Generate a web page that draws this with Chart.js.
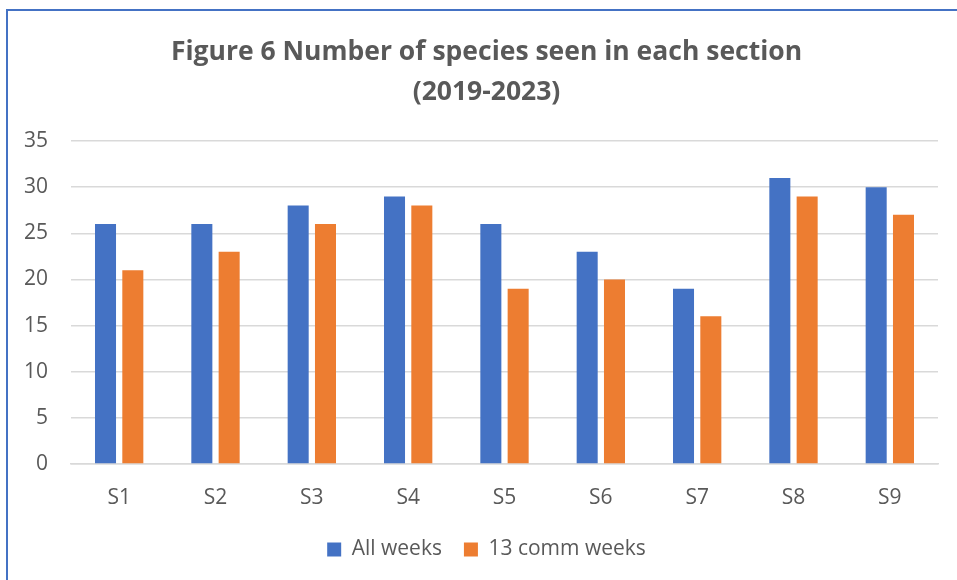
<!DOCTYPE html>
<html>
<head>
<meta charset="utf-8">
<script src="https://cdn.jsdelivr.net/npm/chart.js@4/dist/chart.umd.min.js"></script>
<style>
  html, body { margin: 0; padding: 0; background: #ffffff; overflow: hidden; }
  #wrap { position: relative; width: 957px; height: 580px; overflow: hidden; }
  #frame {
    position: absolute; left: 6px; top: 9px; right: -20px; bottom: -20px;
    border-top: 2px solid #4472C4; border-left: 2px solid #4472C4;
    pointer-events: none;
  }
  canvas { position: absolute; left: 0; top: 0; }
</style>
</head>
<body>
<div id="wrap">
  <canvas id="chart" width="973" height="580"></canvas>
  <div id="frame"></div>
</div>
<script>
// Sections along the transect
const sections = ['S1', 'S2', 'S3', 'S4', 'S5', 'S6', 'S7', 'S8', 'S9'];
// Species counts per section, 2019-2023
const allWeeks = [26, 26, 28, 29, 26, 23, 19, 31, 30];
const commWeeks = [21, 23, 26, 28, 19, 20, 16, 29, 27];
const seriesNames = ['All weeks', '13 comm weeks'];
const titleLines = ['Figure 6 Number of species seen in each section', '(2019-2023)'];

const textColor = '#595959';
const fontFamily = "'Open Sans', 'Liberation Sans', sans-serif";

new Chart(document.getElementById('chart'), {
  type: 'bar',
  data: {
    labels: sections,
    datasets: [
      { label: seriesNames[0], data: allWeeks, backgroundColor: '#4472C4' },
      { label: seriesNames[1], data: commWeeks, backgroundColor: '#ED7D31' }
    ]
  },
  options: {
    responsive: false,
    animation: false,
    devicePixelRatio: 1,
    datasets: { bar: { categoryPercentage: 0.567, barPercentage: 0.77 } },
    layout: { padding: { left: 0, right: 0, top: 0, bottom: 10 } },
    plugins: {
      tooltip: { enabled: false },
      title: {
        display: true,
        text: titleLines,
        color: textColor,
        font: { family: fontFamily, size: 26.5, weight: 'bold', lineHeight: 1.51 },
        padding: { top: 32, bottom: 29 }
      },
      legend: {
        position: 'bottom',
        labels: {
          color: textColor,
          font: { family: fontFamily, size: 21 },
          boxWidth: 14,
          boxHeight: 14,
          padding: 22
        }
      }
    },
    scales: {
      x: {
        grid: { display: false, drawTicks: false },
        border: { display: true, color: '#d9d9d9', width: 1.5 },
        ticks: { color: textColor, font: { family: fontFamily, size: 21 }, padding: 21 },
        afterFit(scale) { scale.height = 53; }
      },
      y: {
        min: 0,
        max: 35,
        ticks: { stepSize: 5, color: textColor, font: { family: fontFamily, size: 21 }, padding: 23 },
        grid: { color: '#d9d9d9', lineWidth: 1.5, drawTicks: false },
        border: { display: false },
        afterFit(scale) { scale.width = 71; }
      },
      // empty right-hand margin beside the plot
      yRight: {
        position: 'right',
        display: true,
        min: 0,
        max: 35,
        ticks: { display: false },
        grid: { display: false, drawTicks: false },
        border: { display: false },
        afterFit(scale) { scale.width = 35; }
      }
    }
  }
});
</script>
</body>
</html>
